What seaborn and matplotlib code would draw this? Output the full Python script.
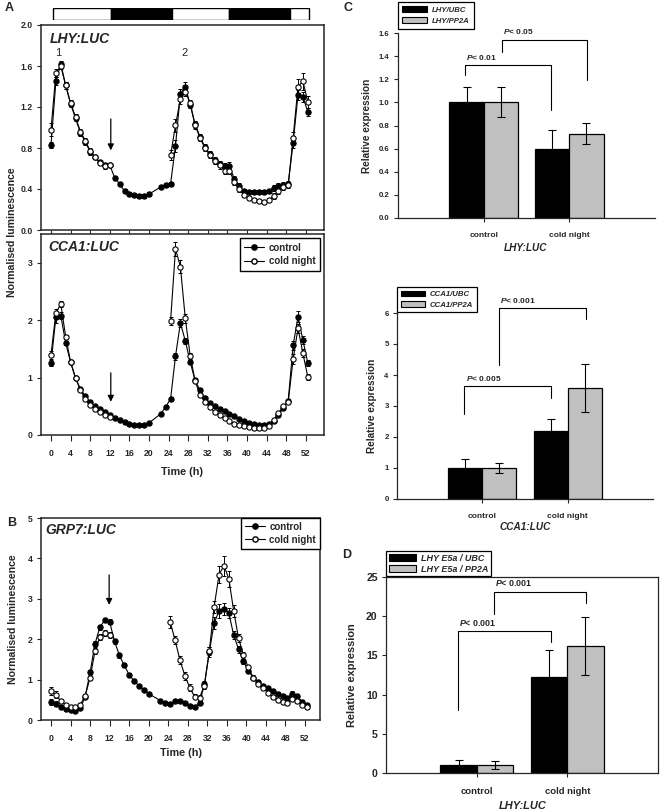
import numpy as np
import pandas as pd
import matplotlib
matplotlib.use('Agg')
import matplotlib.pyplot as plt
import seaborn as sns
from matplotlib.patches import Patch
from matplotlib.lines import Line2D

# ---------------- data ----------------
# light/dark bar (h) and colours
lightdark_edges = [0.4, 12.2, 24.6, 36.4, 48.7, 52.6]
lightdark_cols = ['white', 'black', 'white', 'black', 'white']

# time points (h)
t_ctrl = [0, 1, 2, 3, 4, 5, 6, 7, 8, 9, 10, 11, 12, 13, 14, 15, 16, 17, 18, 19, 20,
          22.4, 23.4, 24.4, 25.4, 26.4, 27.4, 28.4, 29.4, 30.4, 31.4, 32.4, 33.4, 34.4,
          35.4, 36.4, 37.4, 38.4, 39.4, 40.4, 41.4, 42.4, 43.4, 44.4, 45.4, 46.4, 47.4,
          48.4, 49.4, 50.4, 51.4, 52.4]
t_cold1 = [0, 1, 2, 3, 4, 5, 6, 7, 8, 9, 10, 11, 12]
t_cold2 = [24.4, 25.4, 26.4, 27.4, 28.4, 29.4, 30.4, 31.4, 32.4, 33.4, 34.4, 35.4, 36.4,
           37.4, 38.4, 39.4, 40.4, 41.4, 42.4, 43.4, 44.4, 45.4, 46.4, 47.4, 48.4, 49.4,
           50.4, 51.4, 52.4]

# LHY:LUC
lhy_ctrl = [0.83, 1.45, 1.62, 1.41, 1.23, 1.09, 0.95, 0.86, 0.76, 0.71, 0.66, 0.63, 0.63,
            0.51, 0.45, 0.38, 0.35, 0.34, 0.33, 0.33, 0.35,
            0.42, 0.44, 0.45, 0.82, 1.33, 1.40, 1.22, 1.03, 0.91, 0.81, 0.74, 0.68, 0.64,
            0.62, 0.62, 0.50, 0.43, 0.38, 0.37, 0.37, 0.37, 0.37, 0.38, 0.41, 0.43, 0.44,
            0.45, 0.85, 1.32, 1.30, 1.15]
lhy_ctrl_err = [0.03, 0.04, 0.03, 0.03, 0.03, 0.03, 0.03, 0.03, 0.03, 0.02, 0.02, 0.02, 0.02,
                0.02, 0.02, 0.02, 0.02, 0.02, 0.02, 0.02, 0.02,
                0.02, 0.02, 0.02, 0.06, 0.05, 0.04, 0.03, 0.03, 0.03, 0.03, 0.03, 0.03, 0.03,
                0.03, 0.04, 0.03, 0.03, 0.02, 0.02, 0.02, 0.02, 0.02, 0.02, 0.03, 0.03, 0.03,
                0.03, 0.05, 0.05, 0.05, 0.04]
lhy_cold1 = [0.98, 1.53, 1.60, 1.41, 1.24, 1.10, 0.96, 0.87, 0.77, 0.71, 0.65, 0.62, 0.63]
lhy_cold1_err = [0.06, 0.04, 0.03, 0.03, 0.03, 0.03, 0.03, 0.03, 0.03, 0.02, 0.02, 0.02, 0.02]
lhy_cold2 = [0.73, 1.02, 1.28, 1.35, 1.24, 1.02, 0.90, 0.80, 0.73, 0.67, 0.63, 0.58, 0.58,
             0.47, 0.40, 0.34, 0.31, 0.29, 0.28, 0.27, 0.29, 0.33, 0.38, 0.42, 0.44, 0.90,
             1.40, 1.45, 1.25]
lhy_cold2_err = [0.05, 0.06, 0.05, 0.04, 0.03, 0.03, 0.03, 0.03, 0.03, 0.03, 0.03, 0.03, 0.03,
                 0.03, 0.03, 0.02, 0.02, 0.02, 0.02, 0.02, 0.02, 0.03, 0.03, 0.03, 0.03, 0.06,
                 0.07, 0.08, 0.06]

# CCA1:LUC
cca1_ctrl = [1.25, 2.05, 2.08, 1.60, 1.27, 0.99, 0.80, 0.68, 0.57, 0.50, 0.45, 0.40, 0.35,
             0.30, 0.26, 0.22, 0.20, 0.18, 0.17, 0.17, 0.21,
             0.37, 0.49, 0.63, 1.37, 1.95, 1.64, 1.27, 0.95, 0.78, 0.65, 0.56, 0.50, 0.45,
             0.41, 0.37, 0.33, 0.28, 0.24, 0.21, 0.19, 0.18, 0.18, 0.19, 0.25, 0.35, 0.47,
             0.60, 1.56, 2.06, 1.65, 1.25]
cca1_ctrl_err = [0.05, 0.10, 0.06, 0.04, 0.03, 0.03, 0.03, 0.02, 0.02, 0.02, 0.02, 0.02, 0.02,
                 0.02, 0.02, 0.02, 0.02, 0.01, 0.01, 0.01, 0.02,
                 0.02, 0.03, 0.03, 0.06, 0.07, 0.05, 0.04, 0.03, 0.03, 0.03, 0.02, 0.02, 0.02,
                 0.02, 0.02, 0.02, 0.02, 0.02, 0.01, 0.01, 0.01, 0.01, 0.01, 0.02, 0.02, 0.03,
                 0.03, 0.08, 0.10, 0.07, 0.05]
cca1_cold1 = [1.40, 2.13, 2.28, 1.71, 1.27, 0.99, 0.79, 0.62, 0.52, 0.45, 0.40, 0.35, 0.32]
cca1_cold1_err = [0.07, 0.06, 0.05, 0.04, 0.03, 0.03, 0.03, 0.02, 0.02, 0.02, 0.02, 0.02, 0.02]
cca1_cold2 = [1.99, 3.24, 2.93, 2.03, 1.38, 0.94, 0.70, 0.58, 0.48, 0.40, 0.34, 0.29, 0.24,
              0.20, 0.17, 0.15, 0.14, 0.13, 0.13, 0.13, 0.16, 0.26, 0.38, 0.50, 0.58, 1.32,
              1.86, 1.42, 1.01]
cca1_cold2_err = [0.07, 0.12, 0.11, 0.08, 0.05, 0.04, 0.03, 0.03, 0.02, 0.02, 0.02, 0.02, 0.02,
                  0.01, 0.01, 0.01, 0.01, 0.01, 0.01, 0.01, 0.01, 0.02, 0.02, 0.02, 0.03, 0.09,
                  0.08, 0.07, 0.05]

# GRP7:LUC
grp7_ctrl = [0.45, 0.40, 0.32, 0.28, 0.25, 0.23, 0.30, 0.58, 1.18, 1.88, 2.30, 2.47, 2.43,
             1.95, 1.60, 1.35, 1.12, 0.97, 0.85, 0.75, 0.65,
             0.48, 0.42, 0.40, 0.48, 0.47, 0.42, 0.35, 0.32, 0.42, 0.88, 1.68, 2.40, 2.70,
             2.75, 2.65, 2.10, 1.75, 1.45, 1.22, 1.05, 0.95, 0.85, 0.78, 0.72, 0.65, 0.60,
             0.55, 0.65, 0.60, 0.45, 0.38]
grp7_ctrl_err = [0.08, 0.06, 0.04, 0.03, 0.03, 0.03, 0.03, 0.04, 0.05, 0.07, 0.06, 0.05, 0.06,
                 0.06, 0.06, 0.05, 0.05, 0.04, 0.04, 0.03, 0.03,
                 0.03, 0.03, 0.03, 0.03, 0.03, 0.03, 0.03, 0.03, 0.05, 0.08, 0.12, 0.15, 0.18,
                 0.15, 0.13, 0.10, 0.08, 0.06, 0.05, 0.05, 0.04, 0.04, 0.04, 0.04, 0.04, 0.04,
                 0.05, 0.06, 0.05, 0.05, 0.04]
grp7_cold1 = [0.72, 0.63, 0.47, 0.38, 0.33, 0.32, 0.38, 0.60, 1.05, 1.70, 2.05, 2.15, 2.10]
grp7_cold1_err = [0.10, 0.08, 0.05, 0.04, 0.03, 0.03, 0.04, 0.05, 0.06, 0.07, 0.08, 0.08, 0.08]
grp7_cold2 = [2.42, 1.98, 1.48, 1.10, 0.80, 0.58, 0.55, 0.85, 1.70, 2.80, 3.60, 3.82, 3.50,
              2.70, 2.02, 1.60, 1.30, 1.05, 0.90, 0.80, 0.68, 0.58, 0.50, 0.45, 0.42, 0.52,
              0.48, 0.38, 0.32]
grp7_cold2_err = [0.15, 0.10, 0.10, 0.10, 0.08, 0.06, 0.06, 0.08, 0.10, 0.15, 0.20, 0.25, 0.20,
                  0.15, 0.10, 0.08, 0.06, 0.06, 0.05, 0.05, 0.05, 0.05, 0.05, 0.05, 0.05, 0.06,
                  0.05, 0.04, 0.04]

time_ticks = [0, 4, 8, 12, 16, 20, 24, 28, 32, 36, 40, 44, 48, 52]
series_labels = ['control', 'cold night']

# qPCR bar panels
conditions = ['control', 'cold night']
c1_norms = ['LHY/UBC', 'LHY/PP2A']
c1_ubc = [1.00, 0.60]
c1_ubc_err = [0.13, 0.16]
c1_pp2a = [1.00, 0.73]
c1_pp2a_err = [0.13, 0.09]

c2_norms = ['CCA1/UBC', 'CCA1/PP2A']
c2_ubc = [1.00, 2.18]
c2_ubc_err = [0.29, 0.39]
c2_pp2a = [1.00, 3.58]
c2_pp2a_err = [0.17, 0.77]

d_norms = ['LHY E5a / UBC', 'LHY E5a / PP2A']
d_ubc = [1.0, 12.25]
d_ubc_err = [0.65, 3.5]
d_pp2a = [1.0, 16.2]
d_pp2a_err = [0.5, 3.7]

# ---------------- style ----------------
sns.set_style('ticks')
plt.rcParams['font.family'] = ['Liberation Sans', 'DejaVu Sans']
plt.rcParams['mathtext.fontset'] = 'custom'
plt.rcParams['mathtext.it'] = 'Liberation Sans:italic:bold'
plt.rcParams['mathtext.rm'] = 'Liberation Sans:bold'
plt.rcParams['axes.linewidth'] = 1.0
plt.rcParams['xtick.major.width'] = 0.8
plt.rcParams['ytick.major.width'] = 0.8
plt.rcParams['xtick.major.size'] = 3
plt.rcParams['ytick.major.size'] = 3

W, H = 661, 811
fig = plt.figure(figsize=(W / 100, H / 100), dpi=100)


def box(l, t, r, b):
    return fig.add_axes([l / W, 1 - b / H, (r - l) / W, (b - t) / H])


def fpos(x, y):
    return (x / W, 1 - y / H)


MS = 3.8


def draw_series(ax, t, v, e, filled):
    ax.errorbar(t, v, yerr=e, fmt='none', ecolor='black', elinewidth=0.7,
                capsize=1.6, capthick=0.7, zorder=2)
    df = pd.DataFrame({'t': t, 'v': v})
    sns.lineplot(data=df, x='t', y='v', ax=ax, color='black', linewidth=0.8,
                 marker='o', markersize=MS,
                 markerfacecolor='black' if filled else 'white',
                 markeredgecolor='black', markeredgewidth=0.8,
                 estimator=None, sort=False, zorder=3 if filled else 4)
    ax.set_xlabel('')
    ax.set_ylabel('')


tick_font = dict(fontsize=6.2, fontweight='bold')


def style_time_axis(ax, xlim, ylim, yticks, yfmt, show_xlabels=True):
    ax.set_xlim(*xlim)
    ax.set_ylim(*ylim)
    ax.set_xticks(time_ticks)
    ax.set_yticks(yticks)
    ax.set_yticklabels([yfmt.format(y) for y in yticks], **tick_font)
    if show_xlabels:
        ax.set_xticklabels([str(t) for t in time_ticks], **tick_font)
    else:
        ax.set_xticklabels([])
    ax.tick_params(axis='x', pad=6, length=4)
    ax.tick_params(axis='y', pad=3, length=3)
    for s in ax.spines.values():
        s.set_linewidth(1.1)


# ---------------- light/dark bar ----------------
axbar = box(41, 8, 324, 20)
widths = [b - a for a, b in zip(lightdark_edges[:-1], lightdark_edges[1:])]
axbar.barh([0] * len(widths), widths, left=lightdark_edges[:-1], height=1,
           color=lightdark_cols, edgecolor='black', linewidth=1.0)
axbar.set_xlim(-2.04, 55.7)
axbar.set_ylim(-0.5, 0.5)
axbar.axis('off')

# ---------------- A: LHY ----------------
axA1 = box(41, 25, 324, 230)
draw_series(axA1, t_ctrl, lhy_ctrl, lhy_ctrl_err, True)
draw_series(axA1, t_cold1, lhy_cold1, lhy_cold1_err, False)
draw_series(axA1, t_cold2, lhy_cold2, lhy_cold2_err, False)
style_time_axis(axA1, (-2.04, 55.7), (0, 2.0), [0.0, 0.4, 0.8, 1.2, 1.6, 2.0], '{:.1f}',
                show_xlabels=False)
axA1.text(0.032, 0.965, 'LHY:LUC', transform=axA1.transAxes, ha='left', va='top',
          fontsize=10, fontweight='bold', fontstyle='italic')
axA1.text(1.4, 1.73, '1', ha='center', va='center', fontsize=8)
axA1.text(27.2, 1.73, '2', ha='center', va='center', fontsize=8)
axA1.annotate('', xy=(12.2, 0.75), xytext=(12.2, 1.11),
              arrowprops=dict(arrowstyle='-|>', color='black', lw=0.9, mutation_scale=9))

# ---------------- A: CCA1 ----------------
axA2 = box(41, 234, 324, 435)
draw_series(axA2, t_ctrl, cca1_ctrl, cca1_ctrl_err, True)
draw_series(axA2, t_cold1, cca1_cold1, cca1_cold1_err, False)
draw_series(axA2, t_cold2, cca1_cold2, cca1_cold2_err, False)
style_time_axis(axA2, (-2.04, 55.7), (0, 3.5), [0, 1, 2, 3], '{:d}')
axA2.text(0.025, 0.97, 'CCA1:LUC', transform=axA2.transAxes, ha='left', va='top',
          fontsize=10, fontweight='bold', fontstyle='italic')
axA2.annotate('', xy=(12.2, 0.53), xytext=(12.2, 1.13),
              arrowprops=dict(arrowstyle='-|>', color='black', lw=0.9, mutation_scale=9))
fig.text(*fpos(182, 472), 'Time (h)', ha='center', va='center', fontsize=7.8, fontweight='bold')

line_handles = [
    Line2D([], [], color='black', lw=0.8, marker='o', markersize=MS,
           markerfacecolor='black', markeredgecolor='black', label=series_labels[0]),
    Line2D([], [], color='black', lw=0.8, marker='o', markersize=MS,
           markerfacecolor='white', markeredgecolor='black', label=series_labels[1]),
]
legA = axA2.legend(handles=line_handles, loc='upper right', frameon=True, fancybox=False,
                   edgecolor='black', framealpha=1, prop=dict(size=7, weight='bold'),
                   handlelength=2.0, handletextpad=0.5, borderpad=0.45, labelspacing=0.35,
                   borderaxespad=0.45)
legA.get_frame().set_linewidth(1.0)

fig.text(*fpos(12, 232), 'Normalised luminescence', rotation=90, ha='center', va='center',
         fontsize=7.6, fontweight='bold')
fig.text(*fpos(5, 8), 'A', ha='left', va='center', fontsize=9, fontweight='bold')

# ---------------- B: GRP7 ----------------
axB = box(41, 518, 320, 720)
draw_series(axB, t_ctrl, grp7_ctrl, grp7_ctrl_err, True)
draw_series(axB, t_cold1, grp7_cold1, grp7_cold1_err, False)
draw_series(axB, t_cold2, grp7_cold2, grp7_cold2_err, False)
style_time_axis(axB, (-2.05, 55.07), (0, 5), [0, 1, 2, 3, 4, 5], '{:d}')
axB.text(0.015, 0.975, 'GRP7:LUC', transform=axB.transAxes, ha='left', va='top',
         fontsize=10, fontweight='bold', fontstyle='italic')
axB.annotate('', xy=(11.9, 2.78), xytext=(11.9, 3.66),
             arrowprops=dict(arrowstyle='-|>', color='black', lw=0.9, mutation_scale=9))
legB = axB.legend(handles=line_handles, loc='upper right', frameon=True, fancybox=False,
                  edgecolor='black', framealpha=1, prop=dict(size=7, weight='bold'),
                  handlelength=2.0, handletextpad=0.5, borderpad=0.4, labelspacing=0.3,
                  borderaxespad=0.0)
legB.get_frame().set_linewidth(1.0)
fig.text(*fpos(181, 753), 'Time (h)', ha='center', va='center', fontsize=7.8, fontweight='bold')
fig.text(*fpos(13, 619), 'Normalised luminescence', rotation=90, ha='center', va='center',
         fontsize=7.6, fontweight='bold')
fig.text(*fpos(7, 523), 'B', ha='left', va='center', fontsize=9, fontweight='bold')


# ---------------- bar panels ----------------
bar_colors = ['black', '#c0c0c0']


def bar_panel(ax, norms, v_a, e_a, v_b, e_b, ylim, yticks, yfmt, tick_fs, full_box, capsize):
    df = pd.DataFrame({'cond': conditions * 2,
                       'norm': [norms[0]] * 2 + [norms[1]] * 2,
                       'val': v_a + v_b})
    sns.barplot(data=df, x='cond', y='val', hue='norm', palette=bar_colors,
                edgecolor='black', linewidth=0.9, errorbar=None, width=0.8,
                saturation=1, ax=ax, legend=False)
    for cont, errs in zip(ax.containers, [e_a, e_b]):
        for p, e in zip(cont.patches, errs):
            ax.errorbar(p.get_x() + p.get_width() / 2, p.get_height(), yerr=e, fmt='none',
                        ecolor='black', elinewidth=0.8, capsize=capsize, capthick=0.8, zorder=5)
    ax.set_xlim(-1, 2)
    ax.set_ylim(*ylim)
    ax.set_yticks(yticks)
    ax.set_yticklabels([yfmt.format(y) for y in yticks], fontsize=tick_fs, fontweight='bold')
    ax.set_xticks([0, 1])
    ax.set_xticklabels(conditions, fontsize=6, fontweight='bold')
    ax.set_xlabel('')
    ax.set_ylabel('')
    ax.tick_params(axis='x', pad=7, length=3)
    ax.tick_params(axis='y', pad=3, length=3)
    if not full_box:
        ax.spines['top'].set_visible(False)
        ax.spines['right'].set_visible(False)
    for s in ax.spines.values():
        s.set_linewidth(0.9)


def bracket(ax, x0, x1, ytop, y0, y1, label, fs):
    ax.plot([x0, x0, x1, x1], [y0, ytop, ytop, y1], color='black', lw=0.8, clip_on=False)
    ax.annotate(label, xy=(x0, ytop), xytext=(1, 2.5), textcoords='offset points',
                ha='left', va='bottom', fontsize=fs, fontweight='bold', annotation_clip=False)


def bar_legend(norms, x, y, fs, hl, bp, ls):
    handles = [Patch(facecolor=bar_colors[0], edgecolor='black', linewidth=0.8, label=norms[0]),
               Patch(facecolor=bar_colors[1], edgecolor='black', linewidth=0.8, label=norms[1])]
    leg = fig.legend(handles=handles, loc='upper left', bbox_to_anchor=fpos(x, y),
                     frameon=True, fancybox=False, edgecolor='black', framealpha=1,
                     prop=dict(size=fs, weight='bold', style='italic'),
                     handlelength=hl, handleheight=0.75, handletextpad=0.6,
                     borderpad=bp, labelspacing=ls, borderaxespad=0)
    leg.get_frame().set_linewidth(0.9)


# C1
axC1 = box(398, 33, 655, 218)
bar_panel(axC1, c1_norms, c1_ubc, c1_ubc_err, c1_pp2a, c1_pp2a_err, (0, 1.6),
          [0.0, 0.2, 0.4, 0.6, 0.8, 1.0, 1.2, 1.4, 1.6], '{:.1f}', 5.6, False, 3)
bracket(axC1, -0.22, 0.79, 1.32, 1.24, 0.93, '$P$< 0.01', 6)
bracket(axC1, 0.21, 1.21, 1.54, 1.44, 1.19, '$P$< 0.05', 6)
bar_legend(c1_norms, 398, 2, 5.6, 3.2, 0.55, 0.45)
fig.text(*fpos(367, 126), 'Relative expression', rotation=90, ha='center', va='center',
         fontsize=7.2, fontweight='bold')
fig.text(*fpos(526, 248), 'LHY:LUC', ha='center', va='center', fontsize=7.2,
         fontweight='bold', fontstyle='italic')
fig.text(*fpos(343, 8), 'C', ha='left', va='center', fontsize=9, fontweight='bold')

# C2
axC2 = box(397, 313, 653, 499)
bar_panel(axC2, c2_norms, c2_ubc, c2_ubc_err, c2_pp2a, c2_pp2a_err, (0, 6),
          [0, 1, 2, 3, 4, 5, 6], '{:d}', 5.6, False, 3)
bracket(axC2, -0.21, 0.80, 3.64, 2.75, 3.26, '$P$< 0.005', 6)
bracket(axC2, 0.19, 1.22, 6.16, 4.32, 5.80, '$P$< 0.001', 6)
bar_legend(c2_norms, 397, 287, 5.6, 3.2, 0.45, 0.4)
fig.text(*fpos(372, 406), 'Relative expression', rotation=90, ha='center', va='center',
         fontsize=7.2, fontweight='bold')
fig.text(*fpos(525, 527), 'CCA1:LUC', ha='center', va='center', fontsize=7.2,
         fontweight='bold', fontstyle='italic')

# D
axD = box(386, 577, 658, 773)
bar_panel(axD, d_norms, d_ubc, d_ubc_err, d_pp2a, d_pp2a_err, (0, 25),
          [0, 5, 10, 15, 20, 25], '{:d}', 7.6, True, 3.2)
axD.set_xticklabels(conditions, fontsize=6.8, fontweight='bold')
bracket(axD, -0.21, 0.82, 18.1, 8.0, 16.7, '$P$< 0.001', 6.4)
bracket(axD, 0.19, 1.21, 23.1, 20.3, 21.7, '$P$< 0.001', 6.4)
bar_legend(d_norms, 386, 551, 6.5, 3.0, 0.3, 0.2)
fig.text(*fpos(352, 675), 'Relative expression', rotation=90, ha='center', va='center',
         fontsize=7.9, fontweight='bold')
fig.text(*fpos(523, 806), 'LHY:LUC', ha='center', va='center', fontsize=7.9,
         fontweight='bold', fontstyle='italic')
fig.text(*fpos(342, 555), 'D', ha='left', va='center', fontsize=9, fontweight='bold')

fig.savefig('out.png', dpi=100)
